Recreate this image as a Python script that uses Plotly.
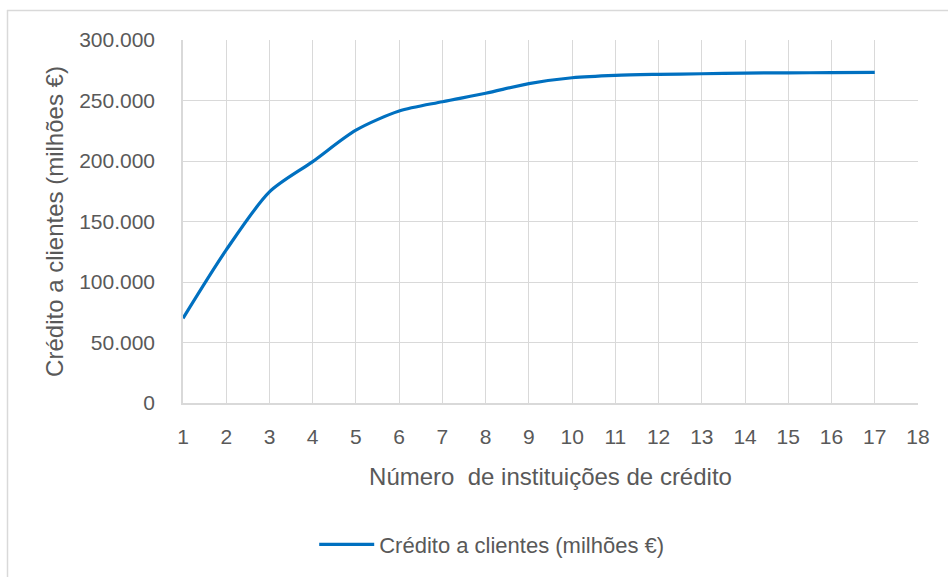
import plotly.graph_objects as go

x_vals = list(range(1, 18))
credito = [70000, 126500, 174500, 199500, 225500, 241300, 249000, 256000, 264000,
           268800, 270800, 271600, 272100, 272700, 272900, 273000, 273200]

series_name = "Crédito a clientes (milhões €)"
x_title = "Número  de instituições de crédito"
y_title = "Crédito a clientes (milhões €)"

font_family = "Liberation Sans, Arial, sans-serif"
grey_text = "#595959"
grid = "#d9d9d9"
fs = 21

fig = go.Figure()
fig.add_trace(go.Scatter(
    x=x_vals, y=credito, mode="lines", name=series_name,
    line=dict(color="#0070C0", width=3.2, shape="spline", smoothing=0.8),
))

W, H = 948, 577
L, R, T, B = 183, 30, 40, 174
pw, ph = W - L - R, H - T - B

def px_x(p):
    return (p - L) / pw

def px_y(p):
    return (H - B - p) / ph

border = dict(color=grid, width=1.5)
fig.update_layout(
    width=W, height=H,
    margin=dict(l=L, r=R, t=T, b=B),
    paper_bgcolor="white", plot_bgcolor="white",
    separators=",.",
    font=dict(family=font_family, size=fs, color=grey_text),
    showlegend=True,
    legend=dict(orientation="h", x=0.42, xanchor="center", y=-0.39, yanchor="middle",
                font=dict(size=22, color=grey_text), itemwidth=55),
    xaxis=dict(range=[1, 18], tick0=1, dtick=1, showgrid=True, gridcolor=grid, gridwidth=1.3,
               showline=True, linecolor=grid, linewidth=1.5, zeroline=False,
               ticks="", ticklabelstandoff=14,
               title=dict(text=x_title, standoff=21, font=dict(size=24, color=grey_text))),
    yaxis=dict(range=[0, 300000], dtick=50000, tickformat=",d", showgrid=True, gridcolor=grid,
               gridwidth=1.3, showline=True, linecolor=grid, linewidth=1.5, zeroline=False,
               ticks="", ticklabelstandoff=22,
               title=dict(text=y_title, standoff=9, font=dict(size=24, color=grey_text))),
    shapes=[
        dict(type="line", xref="paper", yref="paper", x0=px_x(7), x1=px_x(W + 5),
             y0=px_y(10.5), y1=px_y(10.5), line=border, layer="below"),
        dict(type="line", xref="paper", yref="paper", x0=px_x(7.5), x1=px_x(7.5),
             y0=px_y(10), y1=px_y(H + 5), line=border, layer="below"),
    ],
)

fig.write_html("out.html", config={"displayModeBar": False},
               post_script="document.body.style.margin='0';")
